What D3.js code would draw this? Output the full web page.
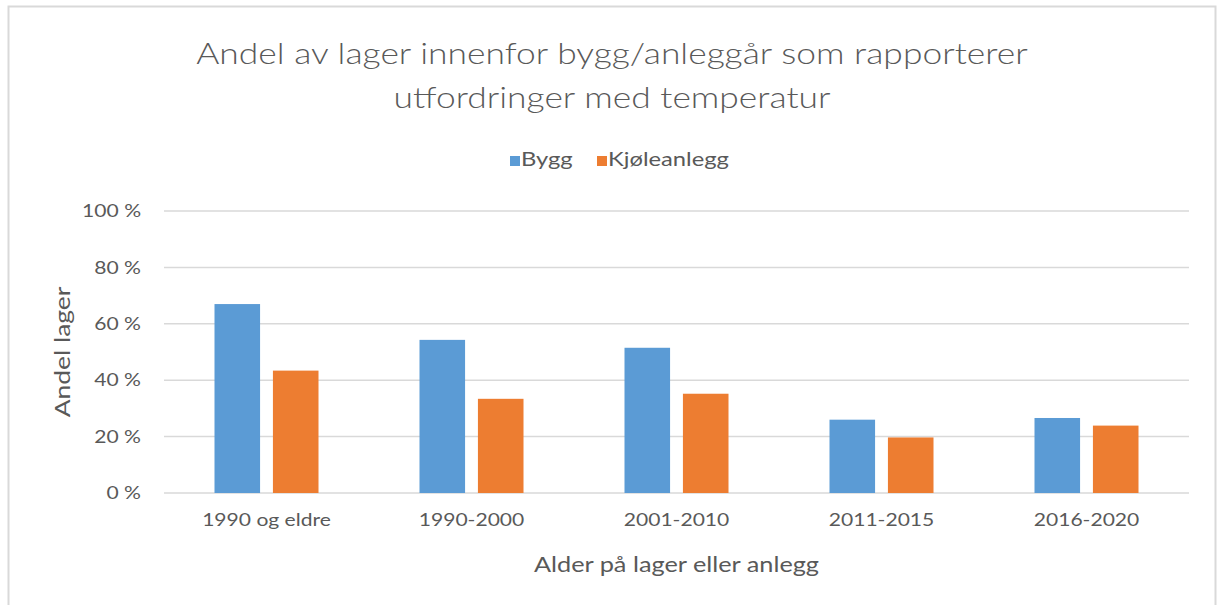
<!DOCTYPE html>
<html>
<head>
<meta charset="utf-8">
<script src="https://cdn.jsdelivr.net/npm/d3@7"></script>
<style>
  body { margin: 0; background: #fff; }
  text { font-family: Lato, "Open Sans", sans-serif; fill: #595959; }
</style>
</head>
<body>
<svg width="1217" height="605"></svg>
<script>
var categories = ["1990 og eldre", "1990-2000", "2001-2010", "2011-2015", "2016-2020"];
var seriesNames = ["Bygg", "Kjøleanlegg"];
var bygg = [67.0, 54.3, 51.5, 26.0, 26.6];
var kjoleanlegg = [43.4, 33.4, 35.2, 19.7, 23.9];
var yTicks = [0, 20, 40, 60, 80, 100];
var colors = ["#5B9BD5", "#ED7D31"];

var svg = d3.select("svg"),
    margin = {top: 211, right: 28, bottom: 112, left: 164},
    width = 1217 - margin.left - margin.right,
    height = 605 - margin.top - margin.bottom;

// widen text a bit, the original font runs wider than Lato
function widen(sel, k) {
    sel.each(function() {
        var len = this.getComputedTextLength();
        d3.select(this).attr("textLength", len * k).attr("lengthAdjust", "spacingAndGlyphs");
    });
}

// chart frame
svg.append("rect")
    .attr("x", 8.5).attr("y", 6.5)
    .attr("width", 1207).attr("height", 620)
    .attr("fill", "none")
    .attr("stroke", "#d9d9d9")
    .attr("stroke-width", 2);

var g = svg.append("g").attr("transform", "translate(" + margin.left + "," + margin.top + ")");

var x0 = d3.scaleBand().domain(categories).range([0, width]).paddingInner(0).paddingOuter(0);
var x1 = d3.scaleBand().domain(seriesNames).range([x0.bandwidth() / 2 - 52, x0.bandwidth() / 2 + 52]).paddingInner(0.22);
var y = d3.scaleLinear().domain([0, 100]).range([height, 0]);

// gridlines
g.append("g")
    .selectAll("line")
    .data(yTicks)
    .enter().append("line")
    .attr("x1", 0).attr("x2", width)
    .attr("y1", function(d) { return y(d); })
    .attr("y2", function(d) { return y(d); })
    .attr("stroke", "#d9d9d9")
    .attr("stroke-width", 1.5);

var yAxis = d3.axisLeft(y)
    .tickValues(yTicks)
    .tickSize(0)
    .tickPadding(23)
    .tickFormat(function(d) { return d + " %"; });
var ya = g.append("g").call(yAxis);
ya.select(".domain").remove();
ya.selectAll("text").style("font-size", "18px").attr("fill", "#595959").call(widen, 1.17);

var data = categories.map(function(c, i) {
    return {cat: c, values: [{key: "Bygg", v: bygg[i]}, {key: "Kjøleanlegg", v: kjoleanlegg[i]}]};
});

var groups = g.selectAll(".grp")
    .data(data)
    .enter().append("g")
    .attr("class", "grp")
    .attr("transform", function(d) { return "translate(" + x0(d.cat) + ",0)"; });

groups.selectAll("rect")
    .data(function(d) { return d.values; })
    .enter().append("rect")
    .attr("x", function(d) { return x1(d.key); })
    .attr("y", function(d) { return y(d.v); })
    .attr("width", x1.bandwidth())
    .attr("height", function(d) { return height - y(d.v); })
    .attr("fill", function(d, i) { return colors[i]; });

var xAxis = d3.axisBottom(x0).tickSize(0).tickPadding(20);
var xa = g.append("g").attr("transform", "translate(0," + height + ")").call(xAxis);
xa.select(".domain").remove();
xa.selectAll("text").style("font-size", "18px").attr("fill", "#595959").call(widen, 1.17);

// axis titles
svg.append("text")
    .attr("x", margin.left + width / 2)
    .attr("y", 572)
    .attr("text-anchor", "middle")
    .style("font-size", "22px")
    .text("Alder på lager eller anlegg")
    .call(widen, 1.15);
svg.append("text")
    .attr("transform", "translate(70," + (margin.top + height / 2) + ") rotate(-90)")
    .attr("text-anchor", "middle")
    .style("font-size", "22px")
    .text("Andel lager")
    .call(widen, 1.2);

// title
var title = svg.append("text")
    .attr("x", 612)
    .attr("y", 64)
    .attr("text-anchor", "middle")
    .style("font-size", "30px")
    .style("font-weight", 300);
title.append("tspan").attr("x", 612).text("Andel av lager innenfor bygg/anleggår som rapporterer");
title.append("tspan").attr("x", 612).attr("dy", 44).text("utfordringer med temperatur");
title.selectAll("tspan").call(widen, 1.18);

// legend
var legend = svg.append("g").attr("transform", "translate(510,166)");
var lx = [0, 87];
legend.selectAll("rect")
    .data(seriesNames)
    .enter().append("rect")
    .attr("x", function(d, i) { return lx[i]; })
    .attr("y", -10)
    .attr("width", 10).attr("height", 10)
    .attr("fill", function(d, i) { return colors[i]; });
legend.selectAll("text")
    .data(seriesNames)
    .enter().append("text")
    .attr("x", function(d, i) { return lx[i] + 11; })
    .attr("y", 0)
    .style("font-size", "19px")
    .text(function(d) { return d; })
    .call(widen, 1.25);
</script>
</body>
</html>
